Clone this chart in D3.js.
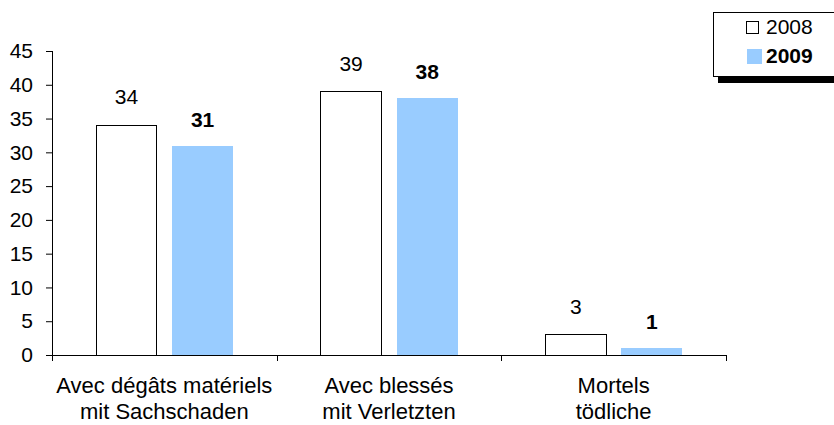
<!DOCTYPE html>
<html><head><meta charset="utf-8">
<script src="https://cdn.jsdelivr.net/npm/d3@7"></script>
<style>
body{margin:0;background:#fff;}
svg{display:block;font-family:"Liberation Sans",Arial,sans-serif;}
</style></head>
<body>
<svg id="c" width="834" height="425"></svg>
<script>
const categories = [["Avec dégâts matériels","mit Sachschaden"],["Avec blessés","mit Verletzten"],["Mortels","tödliche"]];
const seriesNames = ["2008","2009"];
const values2008 = [34, 39, 3];
const values2009 = [31, 38, 1];
const yTicks = [0,5,10,15,20,25,30,35,40,45];
const colors = {"2008":"#ffffff","2009":"#99CCFF"};

(function(){
const svg = d3.select("#c");
const mLeft = 52, mRight = 726, mTop = 51, mBottom = 355;
const catIdx = categories.map((d,i)=>i);
const x0 = d3.scaleBand().domain(catIdx).range([mLeft,mRight]);
const x1 = d3.scaleBand().domain(seriesNames).range([44,181]).paddingInner(0.2);
const y = d3.scaleLinear().domain([0,45]).range([mBottom,mTop]);
const FS = 21;

// y axis
const yAxis = svg.append("g").attr("transform",`translate(${mLeft},0)`)
  .call(d3.axisLeft(y).tickValues(yTicks).tickSize(6).tickPadding(13).tickFormat(d3.format("d")));
yAxis.select(".domain").attr("stroke","#000").attr("d",`M0.5,${mTop}V${mBottom}`);
yAxis.selectAll(".tick line").attr("stroke","#000");
yAxis.selectAll("text").attr("font-size",FS).attr("fill","#000").attr("font-family","Liberation Sans, Arial, sans-serif");

// x axis line with category boundary ticks
const xg = svg.append("g");
xg.append("line").attr("x1",mLeft).attr("x2",mRight).attr("y1",mBottom+0.5).attr("y2",mBottom+0.5).attr("stroke","#000");
const bounds = catIdx.map(i=>x0(i)).concat([x0(catIdx[catIdx.length-1])+x0.bandwidth()]);
xg.selectAll(".bt").data(bounds).enter().append("line")
  .attr("x1",d=>Math.round(d)+0.5).attr("x2",d=>Math.round(d)+0.5).attr("y1",mBottom).attr("y2",mBottom+6).attr("stroke","#000");

// bars
const data = catIdx.map(i=>({i, vals:[{s:"2008",v:values2008[i]},{s:"2009",v:values2009[i]}]}));
const groups = svg.selectAll(".grp").data(data).enter().append("g")
  .attr("transform",d=>`translate(${x0(d.i)},0)`);
groups.selectAll("rect").data(d=>d.vals).enter().append("rect")
  .attr("x",d=>x1(d.s)).attr("width",x1.bandwidth())
  .attr("y",d=>y(d.v)).attr("height",d=>mBottom-y(d.v))
  .attr("fill",d=>colors[d.s])
  .attr("stroke",d=>d.s==="2008"?"#000":"none").attr("stroke-width",1)
  .attr("shape-rendering","crispEdges");
groups.selectAll("text").data(d=>d.vals).enter().append("text")
  .attr("x",d=>x1(d.s)+x1.bandwidth()/2)
  .attr("y",d=>y(d.v)-(d.s==="2008"?21:19))
  .attr("text-anchor","middle").attr("font-size",FS)
  .attr("font-weight",d=>d.s==="2009"?"bold":"normal")
  .text(d=>d.v);

// category labels
const cl = svg.selectAll(".cl").data(catIdx).enter().append("text")
  .attr("text-anchor","middle").attr("font-size",22)
  .attr("x",i=>x0(i)+x0.bandwidth()/2);
cl.append("tspan").attr("x",i=>x0(i)+x0.bandwidth()/2).attr("y",393).text(i=>categories[i][0]);
cl.append("tspan").attr("x",i=>x0(i)+x0.bandwidth()/2).attr("y",419).text(i=>categories[i][1]);

// legend
const lg = svg.append("g");
lg.append("rect").attr("x",718).attr("y",77).attr("width",120).attr("height",6).attr("fill","#000");
lg.append("rect").attr("x",713.5).attr("y",12.5).attr("width",130).attr("height",64).attr("fill","#fff").attr("stroke","#000");
lg.append("rect").attr("x",746.5).attr("y",21.5).attr("width",12).attr("height",12).attr("fill","#fff").attr("stroke","#000");
lg.append("rect").attr("x",747).attr("y",49).attr("width",15).attr("height",15).attr("fill",colors["2009"]);
lg.append("text").attr("x",766).attr("y",34).attr("font-size",FS).text(seriesNames[0]);
lg.append("text").attr("x",766).attr("y",63).attr("font-size",FS).attr("font-weight","bold").text(seriesNames[1]);
})();
</script>
</body></html>
